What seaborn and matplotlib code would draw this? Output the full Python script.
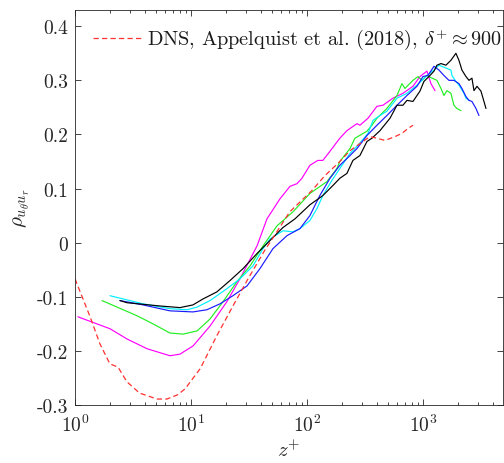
import numpy as np
import pandas as pd
import matplotlib
matplotlib.use('Agg')
import matplotlib.pyplot as plt
import seaborn as sns
from matplotlib.ticker import LogLocator, NullFormatter, FixedLocator, FixedFormatter

# ---------------- data ----------------
z_dns = [1.0, 1.35, 1.64, 2.0, 2.35, 2.8, 3.6, 5.1, 6.2, 7.7, 8.9, 12.0, 16.7, 23, 31, 43,
         55, 71, 110, 143, 192, 235, 286, 349, 401, 470, 574, 659, 743, 820]
rho_dns = [-0.067, -0.137, -0.187, -0.224, -0.230, -0.257, -0.278, -0.289, -0.289, -0.281,
           -0.270, -0.233, -0.172, -0.117, -0.067, -0.015, 0.020, 0.057, 0.096, 0.124,
           0.150, 0.170, 0.183, 0.196, 0.193, 0.189, 0.196, 0.202, 0.211, 0.217]

z_mag = [1.06, 2.0, 2.81, 4.18, 6.59, 8.04, 10.4, 14.6, 20.4, 26.4, 37.1, 45.2, 58.5, 71.3,
         82.0, 90.5, 106, 124, 137, 158, 192, 221, 270, 286, 336, 401, 452, 551, 672, 820,
         942, 1082, 1172, 1269]
rho_mag = [-0.137, -0.159, -0.178, -0.196, -0.209, -0.206, -0.191, -0.154, -0.109, -0.067,
           -0.006, 0.044, 0.081, 0.104, 0.109, 0.119, 0.143, 0.152, 0.152, 0.169, 0.193,
           0.207, 0.220, 0.217, 0.230, 0.252, 0.254, 0.267, 0.276, 0.289, 0.307, 0.317,
           0.294, 0.281]

z_grn = [1.71, 3.42, 4.70, 6.59, 8.53, 11.3, 14.6, 18.9, 24.9, 32.3, 41.8, 55.1, 75.7, 106,
         149, 181, 192, 235, 259, 329, 363, 401, 489, 597, 659, 700, 820, 906, 980, 1082,
         1198, 1320, 1430, 1517, 1610, 1742, 1849, 1963, 2128]
rho_grn = [-0.107, -0.135, -0.150, -0.167, -0.169, -0.163, -0.141, -0.109, -0.072, -0.043,
           -0.006, 0.031, 0.057, 0.091, 0.113, 0.137, 0.150, 0.174, 0.193, 0.206, 0.217,
           0.230, 0.248, 0.272, 0.294, 0.285, 0.300, 0.307, 0.300, 0.309, 0.304, 0.300,
           0.285, 0.272, 0.281, 0.276, 0.254, 0.248, 0.244]

z_cyn = [2.0, 3.86, 6.59, 9.24, 11.3, 14.6, 20.4, 26.4, 34.2, 41.8, 48.0, 62.1, 75.7, 87.0,
         106, 122, 137, 164, 192, 235, 275, 336, 371, 426, 489, 597, 728, 888, 1082, 1245,
         1374, 1610, 1742, 1778, 1924, 2043, 2128, 2255, 2349, 2494]
rho_cyn = [-0.098, -0.113, -0.122, -0.124, -0.119, -0.107, -0.085, -0.067, -0.043, -0.011,
           0.007, 0.022, 0.020, 0.026, 0.041, 0.063, 0.087, 0.115, 0.137, 0.165, 0.180,
           0.202, 0.226, 0.235, 0.243, 0.267, 0.276, 0.291, 0.309, 0.319, 0.328, 0.322,
           0.319, 0.309, 0.298, 0.291, 0.285, 0.276, 0.267, 0.263]

z_blu = [2.44, 3.86, 6.59, 10.4, 13.7, 17.8, 23.0, 30.4, 39.3, 50.9, 67.3, 87.0, 106, 129,
         158, 192, 235, 270, 329, 401, 489, 597, 728, 888, 1000, 1104, 1245, 1374, 1517,
         1675, 1849, 2043, 2168, 2349, 2494, 2645, 2865, 3040]
rho_blu = [-0.107, -0.115, -0.126, -0.128, -0.124, -0.113, -0.098, -0.080, -0.048, -0.011,
           0.013, 0.026, 0.050, 0.087, 0.119, 0.143, 0.161, 0.174, 0.198, 0.217, 0.235,
           0.254, 0.272, 0.289, 0.307, 0.309, 0.326, 0.319, 0.309, 0.300, 0.300, 0.294,
           0.285, 0.270, 0.263, 0.261, 0.248, 0.235]

z_blk = [2.44, 2.81, 5.40, 8.04, 10.4, 12.7, 16.7, 21.7, 28.1, 37.1, 48.0, 62.1, 78.8, 106,
         137, 168, 192, 221, 249, 286, 329, 363, 426, 520, 597, 672, 728, 820, 942, 1020,
         1127, 1245, 1320, 1430, 1578, 1742, 1924, 2043, 2168, 2349, 2494, 2645, 2754, 2924,
         3164, 3357, 3493]
rho_blk = [-0.107, -0.111, -0.117, -0.120, -0.115, -0.104, -0.091, -0.070, -0.048, -0.020,
           0.004, 0.028, 0.044, 0.070, 0.087, 0.106, 0.119, 0.128, 0.152, 0.161, 0.187,
           0.193, 0.207, 0.230, 0.254, 0.254, 0.263, 0.261, 0.280, 0.298, 0.307, 0.317,
           0.328, 0.331, 0.328, 0.337, 0.350, 0.337, 0.319, 0.307, 0.300, 0.304, 0.281,
           0.289, 0.280, 0.261, 0.248]

y_ticks = [-0.3, -0.2, -0.1, 0.0, 0.1, 0.2, 0.3, 0.4]
y_tick_labels = ['-0.3', '-0.2', '-0.1', '0', '0.1', '0.2', '0.3', '0.4']
legend_label = r'DNS, Appelquist et al. (2018), $\delta^{+}\approx 900$'

# ---------------- style ----------------
sns.set_style('ticks')
plt.rcParams.update({
    'font.family': 'serif',
    'font.serif': ['cmr10'],
    'mathtext.fontset': 'cm',
    'axes.unicode_minus': False,
    'axes.formatter.use_mathtext': True,
})

fig = plt.figure(figsize=(5.04, 4.64), dpi=100)
ax = fig.add_axes([75 / 504, 58 / 464, 428 / 504, 395 / 464])

lw = 0.85
series = [
    (z_mag, rho_mag, '#ff00ff'),
    (z_grn, rho_grn, '#22ee22'),
    (z_cyn, rho_cyn, '#00f0ff'),
    (z_blu, rho_blu, '#1a1aff'),
    (z_blk, rho_blk, '#000000'),
]
for zz, rr, col in series:
    sns.lineplot(x=zz, y=rr, ax=ax, color=col, linewidth=lw, estimator=None, sort=False)

sns.lineplot(x=z_dns, y=rho_dns, ax=ax, color='#ff3030', linewidth=0.9,
             estimator=None, sort=False)
dns_line = ax.lines[-1]
dns_line.set_dashes((4.2, 2.6))

ax.set_xscale('log')
ax.set_xlim(1, 4900)
ax.set_ylim(-0.3, 0.43)
ax.yaxis.set_major_locator(FixedLocator(y_ticks))
ax.yaxis.set_major_formatter(FixedFormatter(y_tick_labels))
ax.xaxis.set_major_locator(LogLocator(base=10, numticks=10))
ax.xaxis.set_minor_locator(LogLocator(base=10, subs=np.arange(2, 10), numticks=10))
ax.xaxis.set_minor_formatter(NullFormatter())

for sp in ax.spines.values():
    sp.set_visible(True)
    sp.set_color('#262626')
    sp.set_linewidth(0.6)
ax.tick_params(which='both', direction='in', top=True, right=True, colors='#262626',
               labelcolor='#262626', width=0.6, labelsize=14)
ax.tick_params(which='major', length=4)
ax.tick_params(axis='x', which='major', pad=6)
ax.tick_params(axis='y', which='major', pad=5)
ax.tick_params(which='minor', length=2)

ax.set_xlabel(r'$z^{+}$', fontsize=15, color='#262626', labelpad=3)
ax.set_ylabel(r'$\rho_{u_\theta u_r}$', fontsize=15, color='#262626', labelpad=3)

leg = ax.legend(handles=[dns_line], labels=[legend_label], loc='upper left',
                bbox_to_anchor=(0.042, 0.957), frameon=False, handlelength=2.45,
                handletextpad=0.2, fontsize=14.6, borderaxespad=0, borderpad=0)
for t in leg.get_texts():
    t.set_color('#1a1a1a')

fig.savefig('out.png', dpi=100)
